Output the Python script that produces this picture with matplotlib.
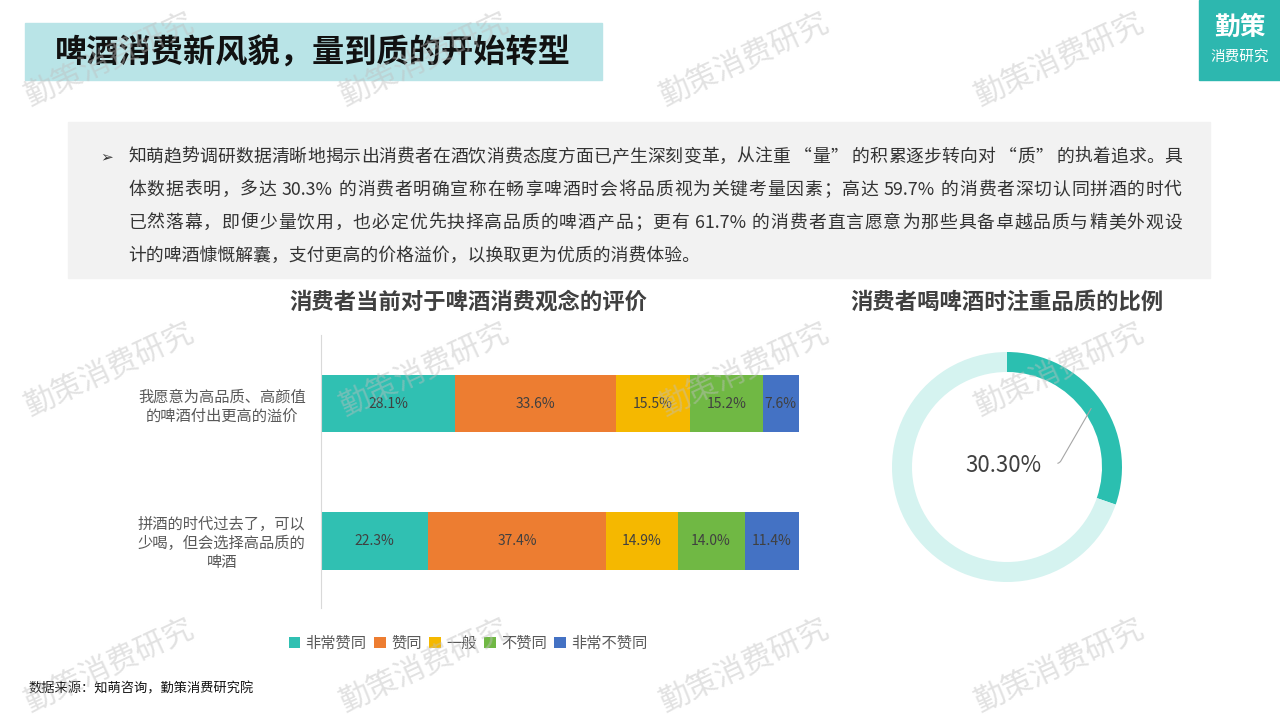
import re
import numpy as np
import matplotlib.pyplot as plt
from matplotlib.patches import Rectangle

plt.rcParams['font.family'] = ['Noto Sans CJK SC', 'DejaVu Sans']

# data
categories = ['我愿意为高品质、高颜值\n的啤酒付出更高的溢价',
              '拼酒的时代过去了，可以\n少喝，但会选择高品质的\n啤酒']
levels = ['非常赞同', '赞同', '一般', '不赞同', '非常不赞同']
shares = [[28.1, 22.3],   # 非常赞同
          [33.6, 37.4],   # 赞同
          [15.5, 14.9],   # 一般
          [15.2, 14.0],   # 不赞同
          [7.6, 11.4]]    # 非常不赞同
level_colors = ['#30c0b2', '#ed7d31', '#f5b800', '#70b844', '#4472c4']

quality_share = 30.3

W, H = 1280, 720
fig = plt.figure(figsize=(12.8, 7.2), dpi=100)
renderer = fig.canvas.get_renderer()


def fx(x):
    return x / W


def fy(y):
    return 1 - y / H


# title band and logo
fig.patches.append(Rectangle((fx(25), fy(80)), fx(577), 57 / H, transform=fig.transFigure,
                             color='#b9e4e7', zorder=0))
fig.text(fx(55), fy(53), '啤酒消费新风貌，量到质的开始转型', fontsize=23.2, fontweight='bold',
         color='#111111', va='center')
fig.patches.append(Rectangle((fx(1199), fy(80)), fx(81), 80 / H, transform=fig.transFigure,
                             color='#2db7af', zorder=0))
fig.text(fx(1240), fy(27), '勤策', fontsize=18.5, fontweight='bold', color='white',
         ha='center', va='center')
fig.text(fx(1240), fy(57), '消费研究', fontsize=10.5, color='white', ha='center', va='center')

# summary box
fig.patches.append(Rectangle((fx(68), fy(278)), fx(1142), 156 / H, transform=fig.transFigure,
                             color='#f2f2f2', zorder=0))
lines = ['知萌趋势调研数据清晰地揭示出消费者在酒饮消费态度方面已产生深刻变革，从注重 “量” 的积累逐步转向对 “质” 的执着追求。具',
         '体数据表明，多达 30.3% 的消费者明确宣称在畅享啤酒时会将品质视为关键考量因素；高达 59.7% 的消费者深切认同拼酒的时代',
         '已然落幕，即便少量饮用，也必定优先抉择高品质的啤酒产品；更有 61.7% 的消费者直言愿意为那些具备卓越品质与精美外观设',
         '计的啤酒慷慨解囊，支付更高的价格溢价，以换取更为优质的消费体验。']
fig.text(fx(100), fy(157), '➢', fontsize=11, color='#333333', va='center',
         family=['DejaVu Sans'])
x0, x1 = 128, 1182
for i, ln in enumerate(lines):
    ypos = fy(157 + 33 * i)
    if i == len(lines) - 1:
        fig.text(fx(x0), ypos, ln, fontsize=12.85, color='#333333', va='center')
        continue
    # justify: place tokens one by one, spreading the spare room
    tokens = re.findall(r'[0-9.%]+|.', ln)
    items = []
    for tk in tokens:
        t = fig.text(0, ypos, tk, fontsize=12.85, color='#333333', va='center')
        items.append((t, t.get_window_extent(renderer).width))
    total = sum(w for _, w in items)
    gap = (x1 - x0 - total) / (len(items) - 1)
    xp = x0
    for t, w in items:
        t.set_x(fx(xp))
        xp += w + gap

# stacked bar chart
ax = fig.add_axes([fx(321), fy(608), fx(478), 273 / H])
y = np.arange(len(categories))
left = np.zeros(len(categories))
for lvl, vals, col in zip(levels, shares, level_colors):
    vals = np.array(vals)
    ax.barh(y, vals, left=left, height=0.42, color=col, label=lvl)
    for yi, v, l0 in zip(y, vals, left):
        ax.text(l0 + v / 2, yi, f'{v:.1f}%', ha='center', va='center', fontsize=10,
                color='#404040')
    left += vals
ax.set_xlim(0, 100)
ax.set_ylim(1.49, -0.5)
ax.set_yticks(y)
ax.set_yticklabels(categories, fontsize=11, color='#595959', linespacing=1.15,
                   multialignment='center')
ax.tick_params(axis='y', length=0, pad=11)
ax.set_xticks([])
for s in ['top', 'right', 'bottom']:
    ax.spines[s].set_visible(False)
ax.spines['left'].set_color('#d9d9d9')
fig.text(fx(468), fy(302), '消费者当前对于啤酒消费观念的评价', fontsize=16.1, fontweight='bold',
         color='#404040', ha='center', va='center')
fig.legend(*ax.get_legend_handles_labels(), loc='center', bbox_to_anchor=(fx(468), fy(643)),
           ncol=5, frameon=False, fontsize=11, labelcolor='#595959', handlelength=0.75,
           handleheight=0.75, handletextpad=0.35, columnspacing=0.5)

# donut
dax = fig.add_axes([fx(1007 - 120), fy(467 + 120), fx(240), 240 / H])
dax.pie([quality_share, 100 - quality_share], colors=['#2bbfb0', '#d5f3f0'], startangle=90,
        counterclock=False, radius=115 / 120, wedgeprops=dict(width=20 / 120))
mid = np.deg2rad(90 - quality_share / 100 * 360 / 2)
r = 105 / 120
dax.annotate('', xy=(r * np.cos(mid), r * np.sin(mid)), xytext=(0.4, 0.03),
             arrowprops=dict(arrowstyle='-', color='#a6a6a6', lw=0.8,
                             connectionstyle='angle,angleA=0,angleB=60,rad=3'))
dax.text(-0.03, 0.01, f'{quality_share:.2f}%', ha='center', va='center', fontsize=16,
         fontweight='medium', color='#404040')
dax.set_xlim(-1, 1)
dax.set_ylim(-1, 1)
dax.set_aspect('equal')
fig.text(fx(1007), fy(302), '消费者喝啤酒时注重品质的比例', fontsize=16.1, fontweight='bold',
         color='#404040', ha='center', va='center')

# source
fig.text(fx(28), fy(689), '数据来源：知萌咨询，勤策消费研究院', fontsize=9.5, color='#111111',
         va='center')

# watermarks
for wy in [60, 370, 666]:
    for wx in [110, 425, 745, 1060]:
        fig.text(fx(wx), fy(wy), '勤策消费研究', fontsize=22, color='#bfbfbf', alpha=0.45,
                 rotation=25, ha='center', va='center', zorder=10)

fig.savefig('out.png', dpi=100)
